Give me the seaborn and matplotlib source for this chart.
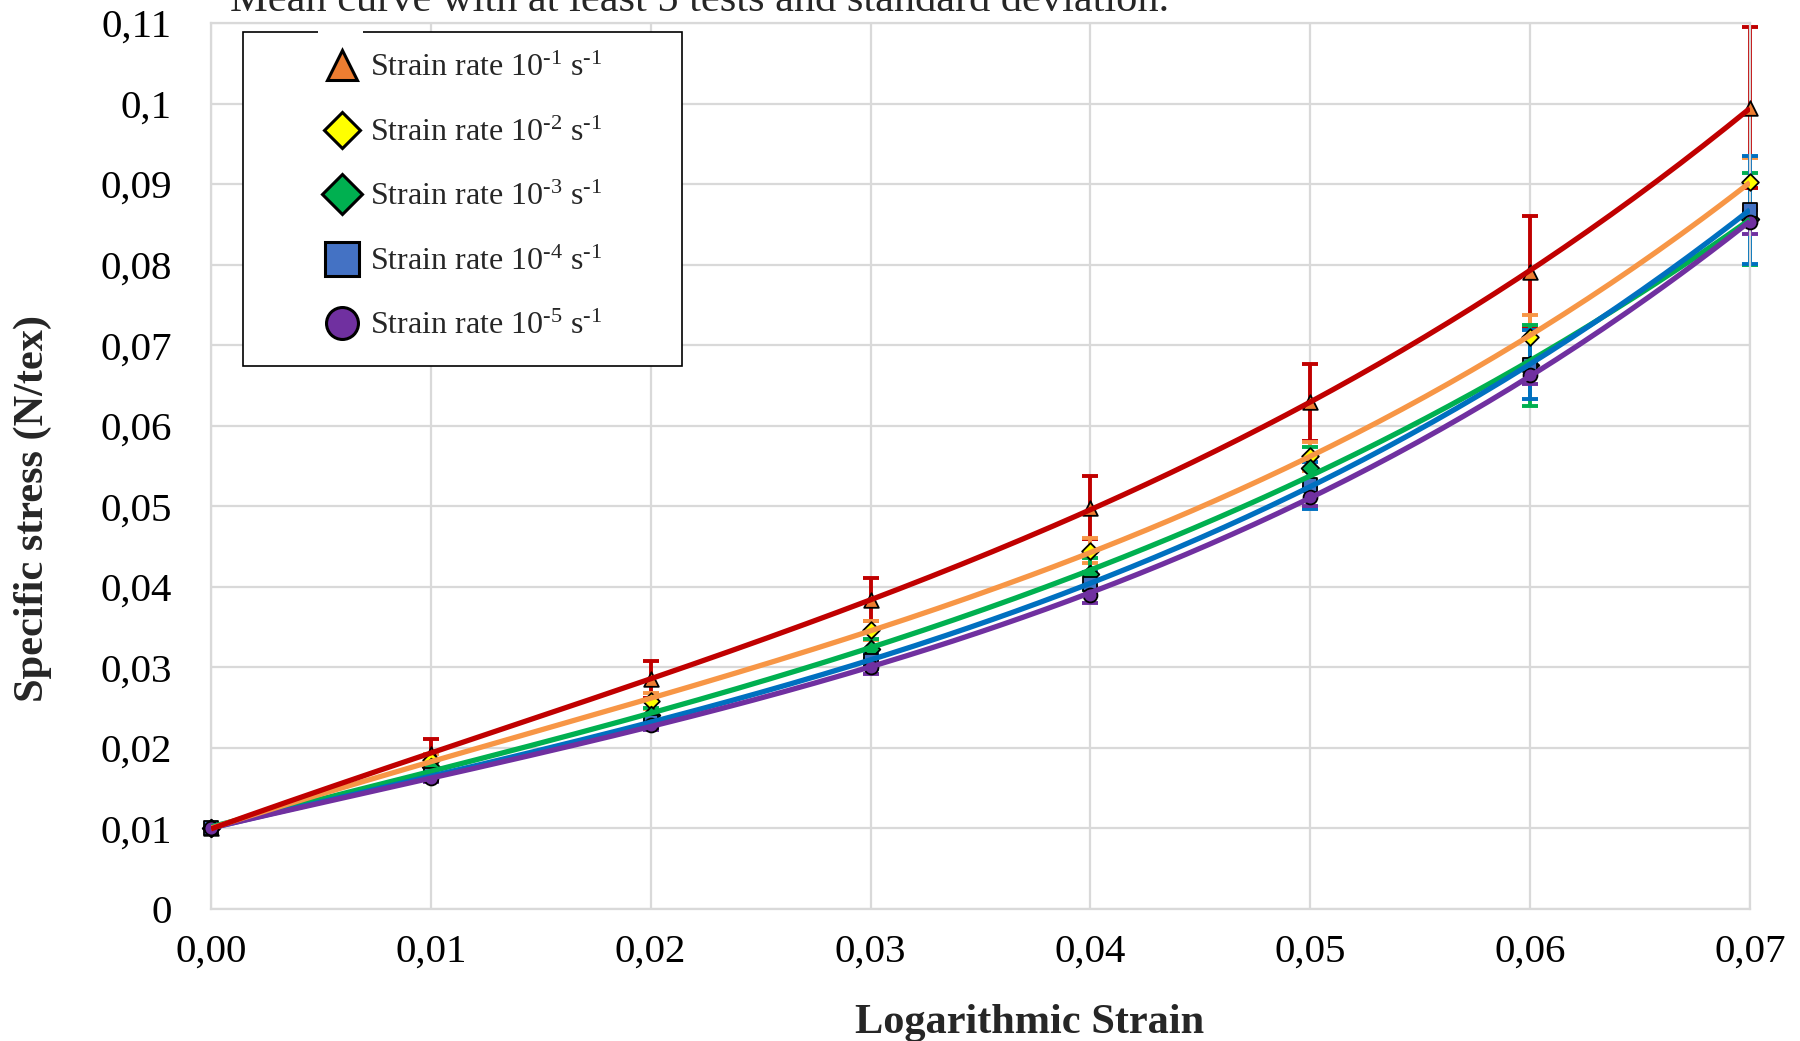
import numpy as np
import pandas as pd
import matplotlib
matplotlib.use("Agg")
import matplotlib.pyplot as plt
from matplotlib.lines import Line2D
from matplotlib.patches import Rectangle
import seaborn as sns

# ---- data: mean specific stress (N/tex) and standard deviation per strain rate ----
strain = [0.00, 0.01, 0.02, 0.03, 0.04, 0.05, 0.06, 0.07]

rate_1e1 = [0.0100, 0.0193, 0.0285, 0.0384, 0.0498, 0.0629, 0.0791, 0.0995]
sd_1e1 = [0.0000, 0.0018, 0.0023, 0.0027, 0.0039, 0.0048, 0.0070, 0.0100]

rate_1e2 = [0.0100, 0.0185, 0.0258, 0.0346, 0.0445, 0.0562, 0.0710, 0.0903]
sd_1e2 = [0.0000, 0.0008, 0.0010, 0.0012, 0.0015, 0.0018, 0.0027, 0.0030]

rate_1e3 = [0.0100, 0.0176, 0.0241, 0.0323, 0.0416, 0.0548, 0.0675, 0.0857]
sd_1e3 = [0.0000, 0.0007, 0.0009, 0.0012, 0.0020, 0.0025, 0.0050, 0.0057]

rate_1e4 = [0.0100, 0.0166, 0.0232, 0.0308, 0.0404, 0.0526, 0.0676, 0.0868]
sd_1e4 = [0.0000, 0.0006, 0.0008, 0.0010, 0.0015, 0.0029, 0.0043, 0.0067]

rate_1e5 = [0.0100, 0.0163, 0.0228, 0.0300, 0.0390, 0.0512, 0.0663, 0.0853]
sd_1e5 = [0.0000, 0.0005, 0.0006, 0.0008, 0.0010, 0.0012, 0.0011, 0.0015]

series_labels = [
    r"Strain rate 10$^{\text{-1}}$ s$^{\text{-1}}$",
    r"Strain rate 10$^{\text{-2}}$ s$^{\text{-1}}$",
    r"Strain rate 10$^{\text{-3}}$ s$^{\text{-1}}$",
    r"Strain rate 10$^{\text{-4}}$ s$^{\text{-1}}$",
    r"Strain rate 10$^{\text{-5}}$ s$^{\text{-1}}$",
]

x_ticks = [0.00, 0.01, 0.02, 0.03, 0.04, 0.05, 0.06, 0.07]
x_tick_labels = ["0,00", "0,01", "0,02", "0,03", "0,04", "0,05", "0,06", "0,07"]
y_ticks = [0.00, 0.01, 0.02, 0.03, 0.04, 0.05, 0.06, 0.07, 0.08, 0.09, 0.10, 0.11]
y_tick_labels = ["0", "0,01", "0,02", "0,03", "0,04", "0,05", "0,06",
                 "0,07", "0,08", "0,09", "0,1", "0,11"]

title_text = "Mean curve with at least 5 tests and standard deviation."
x_label = "Logarithmic Strain"
y_label = "Specific stress (N/tex)"

# ---- styles ----
means = [rate_1e1, rate_1e2, rate_1e3, rate_1e4, rate_1e5]
sds = [sd_1e1, sd_1e2, sd_1e3, sd_1e4, sd_1e5]
markers = ["^", "D", "D", "s", "o"]
marker_fill = ["#ED7D31", "#FFFF00", "#00B050", "#4472C4", "#7030A0"]
plot_marker_size = [10.5, 8.5, 9.0, 10.0, 10.0]
legend_marker_size = [22, 18, 20, 24, 23]
line_colors = ["#C00000", "#F79646", "#00B050", "#0070C0", "#7030A0"]
line_zorder = [9, 8, 5, 6, 7]

sns.set_theme(style="white")
plt.rcParams["font.family"] = ["Liberation Serif", "DejaVu Serif"]
plt.rcParams["mathtext.fontset"] = "custom"
plt.rcParams["mathtext.rm"] = "Liberation Serif"
plt.rcParams["mathtext.default"] = "regular"

fig = plt.figure(figsize=(18, 10.41), dpi=100)
ax = fig.add_axes([0.1172, 0.1268, 0.855, 0.8511])

grid_color = "#D9D9D9"

# error bars
for m, s, c in zip(means, sds, line_colors):
    ax.errorbar(strain, m, yerr=s, fmt="none", ecolor=c, elinewidth=2.8,
                capsize=6, capthick=2.8, zorder=2, clip_on=False)

# mean values as markers
for i, m in enumerate(means):
    df = pd.DataFrame({"strain": strain, "stress": m})
    sns.scatterplot(data=df, x="strain", y="stress", ax=ax, marker=markers[i],
                    color=marker_fill[i], edgecolor="black", linewidth=1.3,
                    s=plot_marker_size[i] ** 2, zorder=3, clip_on=False,
                    legend=False)

# cubic polynomial trend line through each series
xs = np.linspace(strain[0], strain[-1], 200)
for i, m in enumerate(means):
    coef = np.polyfit(strain, m, 3)
    trend = pd.DataFrame({"strain": xs, "stress": np.polyval(coef, xs)})
    sns.lineplot(data=trend, x="strain", y="stress", ax=ax,
                 color=line_colors[i], linewidth=3.8, zorder=line_zorder[i],
                 solid_capstyle="butt")

ax.set_xlim(0, 0.07)
ax.set_ylim(0, 0.11)
ax.set_xticks(x_ticks)
ax.set_xticklabels(x_tick_labels)
ax.set_yticks(y_ticks)
ax.set_yticklabels(y_tick_labels)
ax.set_xlabel("")
ax.set_ylabel("")
ax.grid(True, color=grid_color, linewidth=1.6, zorder=0)
ax.set_axisbelow(True)
for sp in ax.spines.values():
    sp.set_color(grid_color)
    sp.set_linewidth(1.6)
ax.tick_params(axis="x", length=0, labelsize=29.5, pad=18, colors="black")
ax.tick_params(axis="y", length=0, labelsize=29.5, pad=28, colors="black")

# axis titles
fig.text(1030 / 1800, 1 - 1033 / 1041, x_label, fontsize=30.5,
         fontweight="bold", ha="center", va="baseline")
fig.text(33 / 1800, 1 - 509 / 1041, y_label, fontsize=30.5,
         fontweight="bold", ha="center", va="center", rotation=90)

# chart title (runs off the top edge)
fig.text(230 / 1800, 1 - 11 / 1041, title_text, fontsize=30.5,
         ha="left", va="baseline")

# legend box
box = Rectangle((243 / 1800, 1 - 366 / 1041), 439 / 1800, 334 / 1041,
                transform=fig.transFigure, facecolor="white",
                edgecolor="black", linewidth=1.2, zorder=3)
fig.patches.append(box)
gap = Rectangle((318 / 1800, 1 - 35 / 1041), 45 / 1800, 6 / 1041,
                transform=fig.transFigure, facecolor="white",
                edgecolor="none", zorder=4)
fig.patches.append(gap)

handles = [Line2D([], [], linestyle="none", marker=markers[i],
                  markerfacecolor=marker_fill[i], markeredgecolor="black",
                  markeredgewidth=2.2, markersize=legend_marker_size[i])
           for i in range(5)]
fig.legend(handles, series_labels, loc="center",
           bbox_to_anchor=(464 / 1800, 1 - 197.5 / 1041), frameon=False,
           fontsize=23, labelspacing=1.1, handletextpad=0.35,
           handlelength=1.0, borderpad=0.0)

fig.savefig("out.png", dpi=100)
